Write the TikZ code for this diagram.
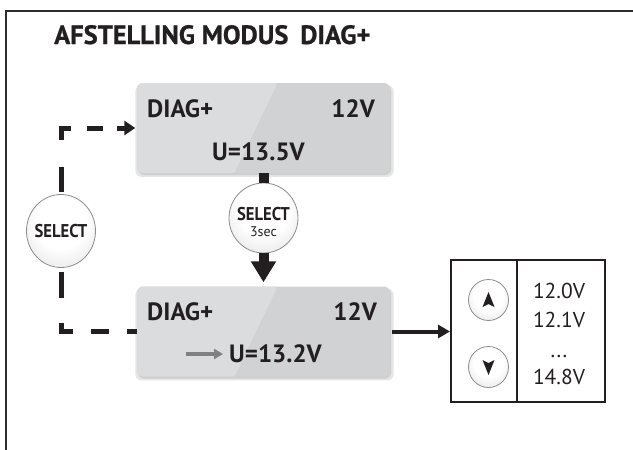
\documentclass[tikz,border=0pt]{standalone}
\usepackage{fontspec}
\setmainfont{PT Sans}
\newfontfamily\lcdfont{PT Sans Bold}
\newfontfamily\titlefont{PT Sans}[FakeBold=0.8]
\newfontfamily\selfont{PT Sans Bold}[FakeStretch=0.9]
\usetikzlibrary{arrows.meta,shapes.geometric,shadows}
\definecolor{ink}{HTML}{231F20}
\definecolor{framec}{HTML}{2E2E2E}
\definecolor{lcdlight}{HTML}{DBDCDE}
\definecolor{lcddark}{HTML}{D1D2D4}
\definecolor{btnborder}{HTML}{8C8C8C}
\definecolor{grayarrow}{HTML}{808080}
\pgfdeclareradialshading{btnshade}{\pgfpoint{0bp}{8bp}}{%
  color(0bp)=(white); color(18bp)=(white); color(40bp)=(black!13); color(50bp)=(black!20); color(70bp)=(black!22)}
\begin{document}
\begin{tikzpicture}[x=1pt,y=-1pt,
  lcd/.style={rectangle, rounded corners=6pt, minimum width=253pt, minimum height=90pt,
    fill=lcddark, inner sep=0pt,
    drop shadow={shadow xshift=1pt, shadow yshift=-3pt, opacity=0.10, fill=black, shadow scale=1.02},
    drop shadow={shadow xshift=1pt, shadow yshift=-2pt, opacity=0.10, fill=black},
    path picture={\fill[lcdlight] ([xshift=-2pt,yshift=2pt]path picture bounding box.north west)
      -- ([xshift=15pt,yshift=2pt]path picture bounding box.north)
      -- ([xshift=-30pt,yshift=-2pt]path picture bounding box.south)
      -- ([xshift=-2pt,yshift=-2pt]path picture bounding box.south west) -- cycle;}},
  lcdtxt/.style={inner sep=0pt, text=ink, font=\lcdfont\fontsize{25}{25}\selectfont},
  valtxt/.style={inner sep=0pt, text=ink, font=\fontsize{21.5}{21.5}\selectfont},
  btn/.style={ellipse, draw=btnborder, line width=0.8pt, inner sep=0pt, shading=btnshade},
  seltxt/.style={inner sep=0pt, text=ink, font=\selfont\fontsize{18.5}{18.5}\selectfont, anchor=base},
  dashline/.style={draw=ink, line width=5pt},
  thick/.style={draw=ink, line width=10pt},
  tri/.style={fill=ink}
]
\useasboundingbox (0,0) rectangle (633,450);
% frame
\draw[framec, line width=2.2pt] (6,451) -- (6,11) -- (634,11);
% title
\node[anchor=base west, inner sep=0pt, text=ink, font=\titlefont\bfseries\fontsize{26.5}{26.5}\selectfont] (title) at (54,44) {AFSTELLING MODUS\hspace{0.45em}DIAG+};

% LCD boxes
\node[lcd] (b1) at (263.5,128) {};
\node[lcdtxt, anchor=base west] (b1l) at (147,117) {DIAG+};
\node[lcdtxt, anchor=base east] (b1r) at (375,117) {12V};
\node[lcdtxt, anchor=base] (b1u) at (258.5,160) {U=13.5V};

\node[lcd] (b2) at (263.5,331.5) {};
\node[lcdtxt, anchor=base west] (b2l) at (147,320) {DIAG+};
\node[lcdtxt, anchor=base east] (b2r) at (377,320) {12V};
\node[lcdtxt, anchor=base] (b2u) at (275.5,362) {U=13.2V};
\coordinate (ga) at (186,354);
\draw[grayarrow, line width=3.5pt, -{Triangle[length=9pt,width=10pt]}] (ga) -- ([xshift=-6pt]b2u.west |- ga);

% SELECT buttons
\node[btn, minimum width=69pt, minimum height=73pt] (s1) at (61,231) {};
\node[seltxt] (s1t) at (61,237) {SELECT};

\node[btn, minimum width=69pt, minimum height=70pt] (s2) at (263.5,218) {};
\node[seltxt] (s2t) at (263.5,220) {SELECT};
\node[inner sep=0pt, text=ink, font=\fontsize{14}{14}\selectfont, anchor=base] (s2s) at (263.5,236) {3sec};

% connectors
\draw[thick] (b1.south) -- (s2.north);
\draw[thick, -{Triangle[length=21pt,width=24pt]}, shorten >=4pt] (s2.south) -- (b2.north);
\draw[dashline, dash pattern=on 0pt off 2pt on 25pt off 27pt on 22pt off 16pt on 16pt off 14pt on 60pt,
  -{Triangle[length=11pt,width=14pt]}, shorten >=1.5pt] (s1.north) -- (s1.north |- b1.west) -- (b1.west);
\draw[dashline, dash pattern=on 0pt off 4pt on 26pt off 25pt on 21pt off 18pt on 18pt off 18pt on 60pt]
  (s1.south) -- (s1.south |- b2.west) -- (b2.west);

% value box
\node[draw=ink, line width=2pt, minimum width=154pt, minimum height=142pt, inner sep=0pt] (vb) at (528,331) {};
\draw[ink, line width=1.5pt] ([xshift=67pt]vb.north west) -- ([xshift=67pt]vb.south west);
\draw[ink, line width=4pt, -{Triangle[length=12pt,width=13pt]}, shorten <=2pt] (b2.east) -- (b2.east -| vb.west);

\node[btn, minimum width=40pt, minimum height=41pt] (up) at (488.5,300) {};
\node[btn, minimum width=40pt, minimum height=41pt] (dn) at (488.5,367) {};
\fill[tri] ([shift={(0,-8)}]up.center) -- ([shift={(6,7)}]up.center) -- ([shift={(0,4)}]up.center) -- ([shift={(-6,7)}]up.center) -- cycle;
\fill[tri] ([shift={(0,8)}]dn.center) -- ([shift={(6,-7)}]dn.center) -- ([shift={(0,-4)}]dn.center) -- ([shift={(-6,-7)}]dn.center) -- cycle;

\node[valtxt, anchor=base] (v1) at (559,298) {12.0V};
\node[valtxt, anchor=base] (v2) at (559,327) {12.1V};
\node[valtxt, anchor=base] (v3) at (559,357) {...};
\node[valtxt, anchor=base] (v4) at (559,384) {14.8V};
\end{tikzpicture}
\end{document}
